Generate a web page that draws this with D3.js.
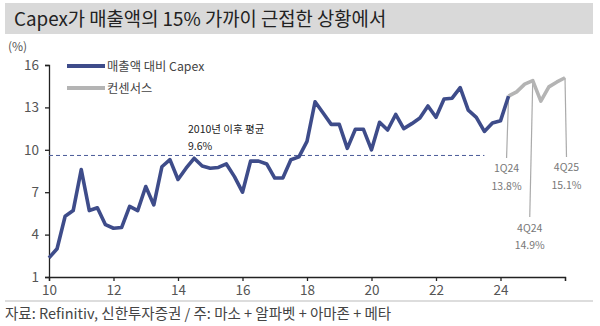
<!DOCTYPE html>
<html>
<head>
<meta charset="utf-8">
<script src="https://cdn.jsdelivr.net/npm/d3@7"></script>
<style>
  html, body { margin: 0; padding: 0; background: #fff; }
  svg { display: block; }
  text { font-family: "Noto Sans CJK KR", "Noto Sans", sans-serif; }
</style>
</head>
<body>
<svg id="chart" width="600" height="326"></svg>
<script>
// Quarterly capex as % of revenue (MSFT + GOOGL + AMZN + META)
const actualQuarters = [
  "4Q09","1Q10","2Q10","3Q10","4Q10","1Q11","2Q11","3Q11","4Q11",
  "1Q12","2Q12","3Q12","4Q12","1Q13","2Q13","3Q13","4Q13",
  "1Q14","2Q14","3Q14","4Q14","1Q15","2Q15","3Q15","4Q15",
  "1Q16","2Q16","3Q16","4Q16","1Q17","2Q17","3Q17","4Q17",
  "1Q18","2Q18","3Q18","4Q18","1Q19","2Q19","3Q19","4Q19",
  "1Q20","2Q20","3Q20","4Q20","1Q21","2Q21","3Q21","4Q21",
  "1Q22","2Q22","3Q22","4Q22","1Q23","2Q23","3Q23","4Q23","1Q24"
];
const actualValues = [
  2.35, 3.0, 5.3, 5.7, 8.6, 5.7, 5.9, 4.7, 4.45,
  4.5, 6.0, 5.7, 7.4, 6.1, 8.8, 9.3, 7.9,
  8.7, 9.4, 8.85, 8.7, 8.75, 9.0, 8.1, 7.0,
  9.2, 9.2, 9.0, 8.0, 8.0, 9.3, 9.5, 10.6,
  13.4, 12.6, 11.8, 11.8, 10.1, 11.45, 11.45, 10.0,
  11.95, 11.4, 12.5, 11.5, 11.85, 12.25, 13.1, 12.3,
  13.6, 13.65, 14.4, 12.8, 12.3, 11.3, 11.9, 12.05, 13.8
];
const consensusQuarters = ["1Q24","2Q24","3Q24","4Q24","1Q25","2Q25","3Q25","4Q25"];
const consensusValues = [13.8, 14.1, 14.65, 14.9, 13.45, 14.45, 14.8, 15.1];

const averageValue = 9.6;
const averageLabel = ["2010년 이후 평균", "9.6%"];
const averageRange = ["4Q09", "2Q23"];

const callouts = [
  { quarter: "1Q24", value: 13.8, label: "1Q24" },
  { quarter: "4Q24", value: 14.9, label: "4Q24" },
  { quarter: "4Q25", value: 15.1, label: "4Q25" }
];

const yTicks = [1, 4, 7, 10, 13, 16];
const xTicks = [2010, 2012, 2014, 2016, 2018, 2020, 2022, 2024, 2026];
const xTickLabels = ["10", "12", "14", "16", "18", "20", "22", "24", ""];

const titleText = "Capex가 매출액의 15% 가까이 근접한 상황에서";
const unitText = "(%)";
const legendLabels = ["매출액 대비 Capex", "컨센서스"];
const sourceText = "자료: Refinitiv, 신한투자증권 / 주: 마소 + 알파벳 + 아마존 + 메타";

const BLUE = "#3e4c8a";
const GREY = "#b4b4b4";

// quarter label -> decimal year at the end of that quarter
function qTime(q) {
  const n = +q[0];
  const yy = 2000 + +q.slice(2);
  return yy + n / 4;
}

const svg = d3.select("#chart");

const x = d3.scaleLinear().domain([2010, 2026]).range([49, 565]);
const y = d3.scaleLinear().domain([1, 16]).range([277, 65]);

// Title band
svg.append("rect").attr("x", 5).attr("y", 3).attr("width", 588).attr("height", 31)
  .attr("fill", "#d9d9d9");
svg.append("text").attr("x", 14).attr("y", 26)
  .attr("font-size", 18.8).attr("fill", "#222").text(titleText);

// Axes
const yAxis = d3.axisLeft(y).tickValues(yTicks).tickSize(4).tickPadding(6)
  .tickFormat(d3.format("d"));
const gy = svg.append("g").attr("transform", `translate(${x(2010)},0)`).call(yAxis);
gy.select(".domain").attr("stroke", "#222").attr("stroke-width", 1.3);
gy.selectAll(".tick line").attr("stroke", "#222").attr("stroke-width", 1.3);
gy.selectAll(".tick text").attr("font-size", 13.5).attr("fill", "#555")
  .attr("font-family", "'Noto Sans', sans-serif");

const xAxis = d3.axisBottom(x).tickValues(xTicks).tickSize(4).tickPadding(4)
  .tickFormat((d, i) => xTickLabels[i]);
const gx = svg.append("g").attr("transform", `translate(0,${y(1)})`).call(xAxis);
gx.select(".domain").attr("stroke", "#222").attr("stroke-width", 1.3);
gx.selectAll(".tick line").attr("stroke", "#222").attr("stroke-width", 1.3);
gx.selectAll(".tick text").attr("font-size", 13.5).attr("fill", "#555")
  .attr("font-family", "'Noto Sans', sans-serif");

svg.append("text").attr("x", 8).attr("y", 51).attr("font-size", 12).attr("fill", "#555")
  .attr("font-family", "'Noto Sans', sans-serif").text(unitText);

// Average reference line
svg.append("line")
  .attr("x1", x(qTime(averageRange[0]))).attr("x2", x(qTime(averageRange[1])))
  .attr("y1", y(averageValue)).attr("y2", y(averageValue))
  .attr("stroke", "#4a5a98").attr("stroke-width", 1).attr("stroke-dasharray", "4,3");
svg.append("text").attr("x", 188).attr("y", 133).attr("font-size", 10.5).attr("fill", "#222")
  .text(averageLabel[0]);
svg.append("text").attr("x", 188).attr("y", 150).attr("font-size", 10.5).attr("fill", "#222")
  .text(averageLabel[1]);

// Callout leader lines and labels
const calloutLayout = {
  "1Q24": { dx: -2, lineEnd: 158, l1: 172, l2: 190 },
  "4Q24": { dx: -3, lineEnd: 217, l1: 232, l2: 249 },
  "4Q25": { dx: 1.5, lineEnd: 157, l1: 171, l2: 189 }
};
callouts.forEach(c => {
  const px = x(qTime(c.quarter)), py = y(c.value);
  const L = calloutLayout[c.quarter];
  svg.append("line").attr("x1", px).attr("y1", py).attr("x2", px + L.dx).attr("y2", L.lineEnd)
    .attr("stroke", "#aaa").attr("stroke-width", 1.2);
  svg.append("text").attr("x", px + L.dx).attr("y", L.l1).attr("text-anchor", "middle")
    .attr("font-size", 10.5).attr("fill", "#777").text(c.label);
  svg.append("text").attr("x", px + L.dx).attr("y", L.l2).attr("text-anchor", "middle")
    .attr("font-size", 10.5).attr("fill", "#777").text(d3.format(".1f")(c.value) + "%");
});

// Series lines
const line = d3.line().x(d => x(d.t)).y(d => y(d.v)).curve(d3.curveLinear);
const actual = actualQuarters.map((q, i) => ({ t: qTime(q), v: actualValues[i] }));
const consensus = consensusQuarters.map((q, i) => ({ t: qTime(q), v: consensusValues[i] }));

svg.append("path").datum(consensus).attr("d", line).attr("fill", "none")
  .attr("stroke", GREY).attr("stroke-width", 3.6).attr("stroke-linejoin", "round");
svg.append("path").datum(actual).attr("d", line).attr("fill", "none")
  .attr("stroke", BLUE).attr("stroke-width", 3.6).attr("stroke-linejoin", "round");

// Legend
const legend = [
  { label: legendLabels[0], color: BLUE, y: 66 },
  { label: legendLabels[1], color: GREY, y: 88 }
];
legend.forEach(l => {
  svg.append("line").attr("x1", 67).attr("x2", 105).attr("y1", l.y).attr("y2", l.y)
    .attr("stroke", l.color).attr("stroke-width", 4);
  svg.append("text").attr("x", 107).attr("y", l.y + 4.5).attr("font-size", 12.3)
    .attr("fill", "#444").text(l.label);
});

// Footer
svg.append("line").attr("x1", 5).attr("x2", 593).attr("y1", 301).attr("y2", 301)
  .attr("stroke", "#bbb").attr("stroke-width", 1);
svg.append("text").attr("x", 5).attr("y", 319).attr("font-size", 14.5).attr("fill", "#444")
  .text(sourceText);
</script>
</body>
</html>
